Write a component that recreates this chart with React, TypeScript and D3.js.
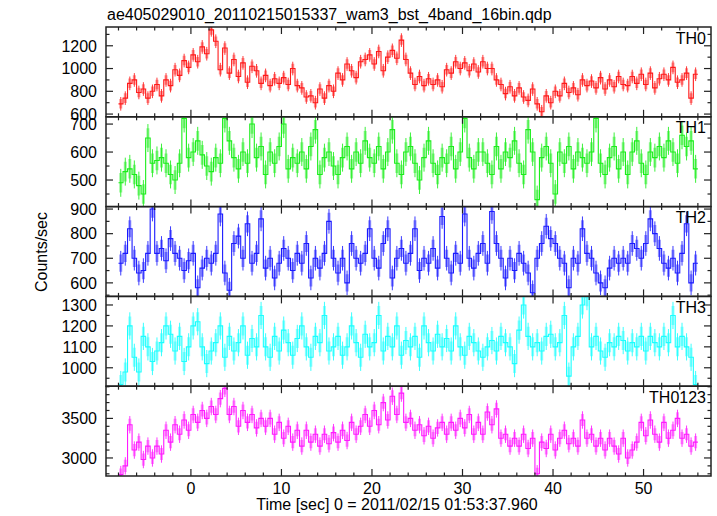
import React from "react";
import * as d3 from "d3";

const TITLE = "ae405029010_20110215015337_wam3_bst_4band_16bin.qdp";
const X_LABEL = "Time [sec] 0 = 2011/02/15 01:53:37.960";
const Y_LABEL = "Counts/sec";

const T_START = -8;
const BIN = 0.5;
const X_DOMAIN = [-9.38, 57.45];
const X_MAJOR = [0, 10, 20, 30, 40, 50];
const X_MINOR_STEP = 2;

const TH0 = [
  690, 740, 870, 900, 790, 820, 740, 800,
  860, 760, 900, 850, 990, 940, 1070, 1010,
  1120, 1060, 1190, 1130, 1340, 1240, 990, 1180,
  960, 1080, 930, 1050, 880, 1020, 980, 870,
  940, 850, 910, 870, 920, 860, 1000, 850,
  830, 750, 760, 700, 820, 740, 850, 800,
  960, 900, 1040, 980, 920, 1060, 1080, 1120,
  1040, 1150, 980, 1100, 1160, 1090, 1250, 1080,
  960, 860, 930, 850, 910, 860, 900, 840,
  990, 960, 1060, 1000, 1050, 980, 1040, 970,
  1060, 1000, 1000, 900, 860, 780, 840, 760,
  830, 750, 720, 820, 690, 620, 760, 700,
  800, 760, 870, 790, 830, 770, 900, 850,
  890, 830, 920, 820, 900, 840, 930, 860,
  850, 930, 870, 950, 860, 960, 830, 910,
  950, 900, 1010, 880, 900, 960, 740, 950,
];
const TH1 = [
  490, 530, 540, 520, 480, 450, 650, 560,
  570, 580, 560, 520, 500, 560, 720, 580,
  600, 640, 590, 550, 530, 580, 560, 720,
  640, 580, 540, 600, 560, 700, 580, 620,
  520, 600, 560, 620, 700, 540, 580, 560,
  600, 540, 620, 680, 520, 580, 600, 550,
  520, 580, 620, 540, 600, 560, 640, 580,
  560, 620, 540, 600, 680, 560, 520, 600,
  620, 560, 500, 580, 640, 560, 520, 580,
  560, 620, 540, 600, 720, 580, 540, 600,
  600, 560, 520, 620, 540, 600, 580, 640,
  560, 520, 680, 600, 430, 580, 620, 560,
  450, 600, 560, 620, 540, 600, 580, 560,
  600, 720, 560, 520, 580, 620, 540, 600,
  520, 600, 640, 560, 520, 600, 580, 620,
  580, 640, 600, 560, 660, 620, 640, 540,
];
const TH2 = [
  680, 720, 820, 700, 640, 650, 720, 900,
  720, 740, 690, 780, 720, 700, 650, 690,
  720, 580, 660, 700, 680, 720, 880, 640,
  570, 760, 790, 700, 840, 680, 720, 860,
  660, 700, 620, 680, 740, 700, 650, 720,
  680, 760, 620, 700, 660, 720, 850, 700,
  640, 700, 600, 760, 700, 680, 720, 820,
  700, 660, 760, 820, 620, 700, 740, 680,
  720, 820, 650, 700, 680, 740, 660, 870,
  700, 640, 720, 680, 880, 700, 660, 720,
  760, 680, 890, 760, 700, 620, 700, 650,
  720, 680, 640, 560, 700, 760, 830, 780,
  760, 700, 680, 580, 700, 680, 820, 720,
  700, 640, 600, 580, 660, 700, 680, 700,
  680, 760, 740, 700, 760, 860, 800, 740,
  680, 660, 700, 640, 720, 840, 600, 680,
];
const TH3 = [
  920, 980, 1200, 1050, 980, 1150, 1100, 1030,
  1080, 1120, 1200, 1160, 1080, 1150, 1030, 1100,
  1200, 1220, 1100, 1020, 1080, 1120, 1200, 1050,
  1150, 1080, 1120, 1200, 1060, 1140, 1100, 1250,
  1100, 1050, 1150, 1080, 1180, 1120, 1060, 1140,
  1200, 1100, 1050, 1150, 1120, 1250, 1080, 1100,
  1150, 1060, 1100, 1200, 1120, 1050, 1160, 1100,
  1120, 1250, 1080, 1150, 1100, 1200, 1060, 1130,
  1100, 1150, 1050, 1200, 1120, 1080, 1160, 1100,
  1140, 1080, 1200, 1100, 1060, 1150, 1120, 1080,
  1050, 1100, 1130, 1080, 1150, 1120, 1100, 1020,
  1180, 1300, 1150, 1100, 1120, 1080, 1150, 1160,
  1100, 1120, 1250, 960, 1100, 1150, 1300, 1340,
  1100, 1150, 1080, 1050, 1120, 1100, 1150, 1130,
  1080, 1120, 1100, 1150, 1080, 1150, 1120, 1100,
  1150, 1120, 1250, 1100, 1150, 1100, 1050, 920,
];
const TH0123 = [
  2790, 2900, 3420, 3100, 3200, 2980, 3150, 3000,
  3150, 3050, 3350, 3200, 3420, 3300, 3480, 3350,
  3550, 3450, 3600, 3500, 3650, 3550, 3750, 3880,
  3550, 3650, 3400, 3600, 3450, 3550, 3380, 3500,
  3400, 3500, 3300, 3450, 3250, 3400, 3200, 3350,
  3150, 3350, 3200, 3300, 3150, 3300, 3180, 3320,
  3200, 3350, 3220, 3450, 3300, 3400, 3550, 3400,
  3600, 3420, 3700, 3480, 3780, 3550, 3820, 3450,
  3500, 3350, 3420, 3280, 3400, 3250, 3380, 3450,
  3300, 3450, 3350, 3500, 3380, 3550, 3300, 3450,
  3300, 3580, 3420, 3620, 3250, 3300, 3150, 3250,
  3150, 3300, 3120, 3250, 2800, 3200, 3120, 3300,
  3100, 3250, 3350, 3180, 3250, 3150, 3480, 3250,
  3300, 3150, 3250, 3100, 3250, 3150, 3050, 3250,
  3000, 3100, 3200, 3450, 3280, 3480, 3300, 3200,
  3450, 3250, 3350, 3500, 3250, 3300, 3150, 3200,
];

const PANEL_NAMES = ["TH0", "TH1", "TH2", "TH3", "TH0123"];
const PANEL_VALUES = [TH0, TH1, TH2, TH3, TH0123];
const PANEL_ERRORS = [60, 50, 50, 65, 110];
const PANEL_DOMAINS = [
  [576, 1365],
  [405, 726],
  [545, 910],
  [912, 1341],
  [2772, 3907],
];
const PANEL_MAJOR = [
  [600, 800, 1000, 1200],
  [500, 600, 700],
  [600, 700, 800, 900],
  [1000, 1100, 1200, 1300],
  [3000, 3500],
];
const PANEL_MINOR_STEP = [100, 50, 50, 50, 100];
const PANEL_COLORS = ["#ff1a1a", "#1aee1a", "#1a1aff", "#1affff", "#ff1aff"];

const W = 717;
const H = 516;
const LEFT = 106;
const RIGHT = 711;
const TOP = 27;
const BOTTOM = 476;
const FONT = "'Liberation Sans', Arial, Helvetica, sans-serif";

export default function App() {
  const n = PANEL_NAMES.length;
  const ph = (BOTTOM - TOP) / n;
  const x = d3.scaleLinear().domain(X_DOMAIN).range([LEFT, RIGHT]);
  const xMinor = d3.range(-8, 57, X_MINOR_STEP).filter((t) => !X_MAJOR.includes(t));
  const line = d3.line<[number, number]>().x((d) => d[0]).y((d) => d[1]);

  return (
    <svg width={W} height={H} style={{ display: "block", position: "absolute", left: 0, top: 0 }}
      fontFamily={FONT}>
      <rect x={0} y={0} width={W} height={H} fill="#fff" />
      <text x={107} y={20} fontSize={16} fill="#000">{TITLE}</text>
      <defs>
        {PANEL_NAMES.map((name, p) => (
          <clipPath id={`clip${p}`} key={name}>
            <rect x={LEFT} y={TOP + p * ph} width={RIGHT - LEFT} height={ph} />
          </clipPath>
        ))}
      </defs>
      {PANEL_NAMES.map((name, p) => {
        const y0 = TOP + p * ph;
        const y1 = y0 + ph;
        const y = d3.scaleLinear().domain(PANEL_DOMAINS[p]).range([y1, y0]);
        const vals = PANEL_VALUES[p];
        const err = PANEL_ERRORS[p];
        const color = PANEL_COLORS[p];
        const [dmin, dmax] = PANEL_DOMAINS[p];
        const minorStep = PANEL_MINOR_STEP[p];
        const yMinor = d3
          .range(Math.ceil(dmin / minorStep) * minorStep, dmax, minorStep)
          .filter((v) => !PANEL_MAJOR[p].includes(v));
        const pts: [number, number][] = [];
        vals.forEach((v, i) => {
          const t0 = T_START + i * BIN;
          pts.push([x(t0), y(v)]);
          pts.push([x(t0 + BIN), y(v)]);
        });
        return (
          <g key={name}>
            <g clipPath={`url(#clip${p})`}>
              {vals.map((v, i) => {
                const tc = T_START + (i + 0.5) * BIN;
                return (
                  <g key={i}>
                    <line x1={x(tc)} x2={x(tc)} y1={y(v - err * 0.7)} y2={y(v + err * 0.7)}
                      stroke={color} strokeWidth={3} strokeOpacity={0.45} />
                    <line x1={x(tc)} x2={x(tc)} y1={y(v - err)} y2={y(v + err)}
                      stroke={color} strokeWidth={1} strokeOpacity={0.85} />
                  </g>
                );
              })}
              <path d={line(pts) || ""} fill="none" stroke={color} strokeWidth={1.1} />
            </g>
            <rect x={LEFT} y={y0} width={RIGHT - LEFT} height={ph} fill="none" stroke="#222" strokeWidth={1.5} />
            {X_MAJOR.map((t) => (
              <g key={"xm" + t}>
                <line x1={x(t)} x2={x(t)} y1={y1} y2={y1 - 7} stroke="#222" strokeWidth={1.2} />
                <line x1={x(t)} x2={x(t)} y1={y0} y2={y0 + 7} stroke="#222" strokeWidth={1.2} />
              </g>
            ))}
            {xMinor.map((t) => (
              <g key={"xn" + t}>
                <line x1={x(t)} x2={x(t)} y1={y1} y2={y1 - 3.5} stroke="#222" strokeWidth={1.2} />
                <line x1={x(t)} x2={x(t)} y1={y0} y2={y0 + 3.5} stroke="#222" strokeWidth={1.2} />
              </g>
            ))}
            {PANEL_MAJOR[p].map((v) => (
              <g key={"ym" + v}>
                <line x1={LEFT} x2={LEFT + 7} y1={y(v)} y2={y(v)} stroke="#222" strokeWidth={1.2} />
                <line x1={RIGHT} x2={RIGHT - 7} y1={y(v)} y2={y(v)} stroke="#222" strokeWidth={1.2} />
                <text x={97} y={y(v)} dy="0.36em" textAnchor="end" fontSize={16} fill="#000">{v}</text>
              </g>
            ))}
            {yMinor.map((v) => (
              <g key={"yn" + v}>
                <line x1={LEFT} x2={LEFT + 3.5} y1={y(v)} y2={y(v)} stroke="#222" strokeWidth={1.2} />
                <line x1={RIGHT} x2={RIGHT - 3.5} y1={y(v)} y2={y(v)} stroke="#222" strokeWidth={1.2} />
              </g>
            ))}
            <text x={706} y={y0 + 16.5} textAnchor="end" fontSize={16} fill="#000">{name}</text>
          </g>
        );
      })}
      {X_MAJOR.map((t) => (
        <text key={"xl" + t} x={x(t)} y={494} textAnchor="middle" fontSize={16} fill="#000">{t}</text>
      ))}
      <text x={397} y={510} textAnchor="middle" fontSize={16} fill="#000">{X_LABEL}</text>
      <text transform={`translate(47,252) rotate(-90)`} textAnchor="middle" fontSize={16} fill="#000">{Y_LABEL}</text>
    </svg>
  );
}
